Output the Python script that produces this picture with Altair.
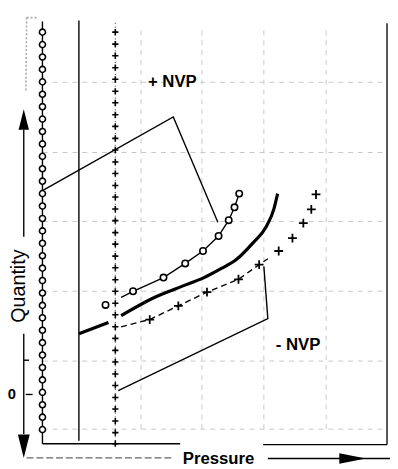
import altair as alt
import pandas as pd

# ---- coordinate frame (arbitrary schematic units: Pressure 0-100, Quantity 0-100)
X_DOMAIN = [-4.62, 100.82]
Y_DOMAIN = [-2.53, 100]

# ---- data
col_circle_p = 4.89
col_circle_q = [96.8, 93.9, 91.0, 88.1, 85.2, 82.3, 79.4, 76.5, 73.6, 70.7, 67.8,
                64.9, 62.0, 59.1, 56.2, 53.3, 50.4, 47.5, 44.6, 41.7, 38.8, 35.9,
                33.0, 30.1, 27.2, 24.3, 21.4, 18.5, 15.6, 12.7, 9.8, 6.9, 4.0]
col_plus_p = 25.0
col_plus_q = [96.8, 94.0, 91.3, 88.5, 85.8, 83.0, 80.3, 77.5, 74.8, 72.0, 69.3, 66.5,
              63.8, 61.0, 58.3, 55.5, 52.8, 50.0, 47.3, 44.5, 41.8, 39.0, 36.3, 33.5,
              30.8, 28.0, 25.3, 22.5, 19.8, 17.0, 14.3, 11.5, 8.8, 6.0, 3.3, 0.7]

circ_curve_p = [26.6, 29.9, 38.3, 44.3, 49.2, 53.5, 56.3, 57.9, 59.2]
circ_curve_q = [34.9, 36.3, 39.5, 42.8, 45.7, 49.2, 52.9, 55.9, 59.1]
circ_marker_p = [22.3, 29.9, 38.3, 44.3, 49.2, 53.5, 56.3, 57.9, 59.2]
circ_marker_q = [33.1, 36.3, 39.5, 42.8, 45.7, 49.2, 52.9, 55.9, 59.1]

thick_seg = [0, 0, 1, 1, 1, 1, 1, 1, 1, 1, 1, 1]
thick_p = [14.95, 23.1, 26.6, 35.9, 44.8, 49.5, 53.8, 58.4, 63.0, 66.6, 68.8, 69.8]
thick_q = [26.4, 29.0, 30.6, 34.9, 37.9, 39.5, 41.4, 43.7, 47.6, 51.3, 55.6, 59.1]

plus_line_p = [26.6, 34.5, 42.4, 50.3, 59.0, 64.7, 67.1]
plus_line_q = [28.0, 29.7, 32.9, 36.1, 39.1, 42.5, 43.9]
plus_marker_p = [34.5, 42.4, 50.3, 59.0, 64.7, 70.1, 73.9, 76.9, 79.1, 80.4]
plus_marker_q = [29.7, 32.9, 36.1, 39.1, 42.5, 45.7, 48.7, 52.2, 55.4, 58.9]

bracket_seg = [0, 0, 0, 1, 1, 1]
bracket_p = [4.89, 41.0, 53.3, 25.8, 67.1, 66.0]
bracket_q = [59.8, 77.0, 52.4, 13.1, 29.9, 42.1]

grid_p = [32.1, 48.9, 66.0, 83.2]
grid_q = [85.1, 68.7, 52.6, 36.3, 20.0, 4.1]

# straight strokes: p, q, p2, q2
thin_rules = [
    (4.89, 99.3, 4.89, 0.7),      # circle column
    (14.95, 99.5, 14.95, 1.4),    # solid vertical
    (-0.27, 74.0, -0.27, 49.0),   # quantity arrow shaft (upper)
    (-0.27, 26.4, -0.27, 3.0),    # quantity arrow shaft (lower)
    (0.27, 12.2, 2.17, 12.2),     # tick at 0
    (-0.27, 20.2, 1.2, 20.2),     # small tick
    (4.89, 0.7, 42.9, 0.7),       # bottom frame left
    (65.8, 0.5, 100.0, 0.5),      # bottom frame right
    (67.1, -2.76, 100.8, -2.76),  # pressure arrow shaft
]
frame_rule = [(100.0, 98.9, 100.0, 0.5)]
dash_rules = [(0.5, -2.6, 40.8, -2.6)]
dotted_rules = [(0.54, 100.2, 0.3, 82.8), (0.54, 100.2, 3.6, 100.2)]
plus_col_line = [(25.0, 99.0, 25.0, 0.5)]

labels_text = ["+ NVP", "- NVP"]
labels_p = [34.0, 69.3]
labels_q = [85.1, 23.7]

# ---- helpers
xs = alt.Scale(domain=X_DOMAIN, nice=False, zero=False)
ys = alt.Scale(domain=Y_DOMAIN, nice=False, zero=False)


def X(f="p"):
    return alt.X(f"{f}:Q", scale=xs, axis=None)


def Y(f="q"):
    return alt.Y(f"{f}:Q", scale=ys, axis=None)


def rules_df(rows):
    return pd.DataFrame(rows, columns=["p", "q", "p2", "q2"])


def rule_layer(rows, **mk):
    return alt.Chart(rules_df(rows)).mark_rule(**mk).encode(
        x=X(), y=Y(), x2="p2:Q", y2="q2:Q")


# grid
grid_v = alt.Chart(pd.DataFrame({"p": grid_p, "q": 4.1, "q2": 98.0})).mark_rule(
    color="#c8c8c8", strokeDash=[5, 5], strokeWidth=1).encode(x=X(), y=Y(), y2="q2:Q")
grid_h = alt.Chart(pd.DataFrame({"q": grid_q, "p": 5.0, "p2": 100.0})).mark_rule(
    color="#c8c8c8", strokeDash=[5, 5], strokeWidth=1).encode(x=X(), x2="p2:Q", y=Y())

thin = rule_layer(thin_rules, color="black", strokeWidth=1.4)
frame = rule_layer(frame_rule, color="#555", strokeWidth=2)
dashed = rule_layer(dash_rules, color="#666", strokeWidth=1.4, strokeDash=[7, 3])
dotted = rule_layer(dotted_rules, color="#aaa", strokeWidth=1.6, strokeDash=[2, 2])
pluscol = rule_layer(plus_col_line, color="#333", strokeWidth=1, strokeDash=[1, 3])

brackets = alt.Chart(pd.DataFrame({"seg": bracket_seg, "i": range(len(bracket_p)),
                                   "p": bracket_p, "q": bracket_q})).mark_line(
    color="black", strokeWidth=1.4).encode(x=X(), y=Y(), detail="seg:N", order="i:Q")

circ_line = alt.Chart(pd.DataFrame({"p": circ_curve_p, "q": circ_curve_q})).mark_line(
    color="black", strokeWidth=1.4).encode(x=X(), y=Y())

thick = alt.Chart(pd.DataFrame({"seg": thick_seg, "p": thick_p, "q": thick_q})).mark_line(
    color="black", strokeWidth=3.2, interpolate="monotone").encode(x=X(), y=Y(), detail="seg:N")

plus_line = alt.Chart(pd.DataFrame({"p": plus_line_p, "q": plus_line_q})).mark_line(
    color="black", strokeWidth=1.4, strokeDash=[6, 4]).encode(x=X(), y=Y())

circ_col = alt.Chart(pd.DataFrame({"p": col_circle_p, "q": col_circle_q})).mark_point(
    shape="circle", size=38, filled=True, fill="white", stroke="black", strokeWidth=1.6,
    opacity=1).encode(x=X(), y=Y())

circ_mk = alt.Chart(pd.DataFrame({"p": circ_marker_p, "q": circ_marker_q})).mark_point(
    shape="circle", size=42, filled=True, fill="white", stroke="black", strokeWidth=1.6,
    opacity=1).encode(x=X(), y=Y())

PLUS = "M-1,0L1,0M0,-1L0,1"
plus_col = alt.Chart(pd.DataFrame({"p": col_plus_p, "q": col_plus_q})).mark_point(
    shape=PLUS, size=40, filled=False, stroke="black", strokeWidth=1.6, opacity=1).encode(
    x=X(), y=Y())
plus_mk = alt.Chart(pd.DataFrame({"p": plus_marker_p, "q": plus_marker_q})).mark_point(
    shape=PLUS, size=80, filled=False, stroke="black", strokeWidth=1.8, opacity=1).encode(
    x=X(), y=Y())

# arrowheads
arrow_up = alt.Chart(pd.DataFrame({"p": [-0.27], "q": [76.4]})).mark_point(
    shape="M0,-1L0.5,1L-0.5,1Z", size=441, filled=True, color="black", opacity=1).encode(
    x=X(), y=Y())
arrow_down = alt.Chart(pd.DataFrame({"p": [-0.27], "q": [0.1]})).mark_point(
    shape="M0,1L0.5,-1L-0.5,-1Z", size=576, filled=True, color="black", opacity=1).encode(
    x=X(), y=Y())
arrow_right = alt.Chart(pd.DataFrame({"p": [90.5], "q": [-2.76]})).mark_point(
    shape="M1,0L-1,-0.4L-1,0.4Z", size=729, filled=True, color="black", opacity=1).encode(
    x=X(), y=Y())

# texts
nvp = alt.Chart(pd.DataFrame({"p": labels_p, "q": labels_q, "t": labels_text})).mark_text(
    align="left", baseline="middle", font="Liberation Sans", fontWeight="bold",
    fontSize=17, color="black").encode(x=X(), y=Y(), text="t:N")
qty = alt.Chart(pd.DataFrame({"p": [-1.63], "q": [37.5], "t": ["Quantity"]})).mark_text(
    angle=270, align="center", baseline="middle", font="Liberation Sans", fontSize=20,
    color="black").encode(x=X(), y=Y(), text="t:N")
zero = alt.Chart(pd.DataFrame({"p": [-3.53], "q": [12.2], "t": ["0"]})).mark_text(
    align="center", baseline="middle", font="Liberation Sans", fontWeight="bold",
    fontSize=15, color="black").encode(x=X(), y=Y(), text="t:N")
press = alt.Chart(pd.DataFrame({"p": [53.5], "q": [-2.9], "t": ["Pressure"]})).mark_text(
    align="center", baseline="middle", font="Liberation Sans", fontWeight="bold",
    fontSize=17, color="black").encode(x=X(), y=Y(), text="t:N")

chart = alt.layer(
    grid_v, grid_h, dotted, pluscol, frame, thin, dashed, brackets, circ_line, thick,
    plus_line, circ_col, circ_mk, plus_col, plus_mk, arrow_up, arrow_down, arrow_right,
    nvp, qty, zero, press,
).properties(
    width=388, height=446,
    autosize=alt.AutoSizeParams(type="none"),
    padding={"left": 0, "top": 7, "right": 0, "bottom": 8},
    background="white",
).configure_view(stroke=None)

chart.save("out.html", embed_options={"renderer": "svg", "actions": False})
